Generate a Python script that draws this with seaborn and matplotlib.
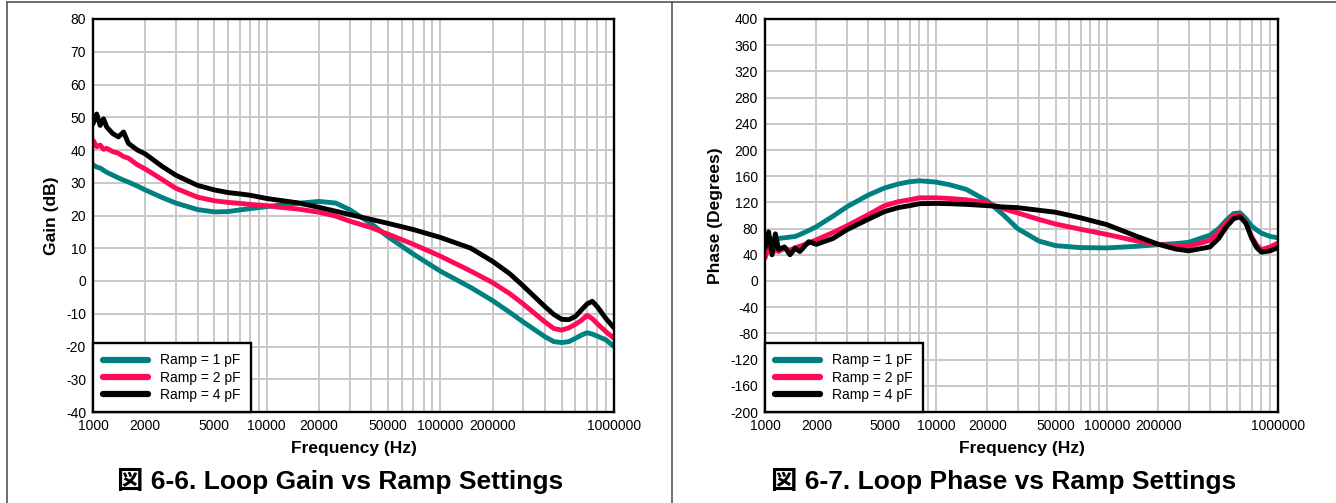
import matplotlib
matplotlib.use("Agg")
import matplotlib.pyplot as plt
from matplotlib.lines import Line2D
from matplotlib.ticker import FixedLocator, FixedFormatter, NullFormatter
import numpy as np
import pandas as pd
import seaborn as sns

# ---------------- data ----------------
FREQ = [1000, 1050, 1100, 1150, 1200, 1300, 1400, 1500, 1600, 1800, 2000, 2500, 3000,
        4000, 5000, 6000, 7000, 8000, 10000, 12000, 15000, 20000, 25000, 30000, 40000,
        50000, 70000, 100000, 150000, 200000, 250000, 300000, 400000, 450000, 500000,
        550000, 600000, 650000, 700000, 750000, 800000, 900000, 1000000]

SERIES = ["Ramp = 1 pF", "Ramp = 2 pF", "Ramp = 4 pF"]

GAIN_1PF = [35.5, 34.8, 34.5, 33.8, 33.2, 32.3, 31.5, 30.8, 30.2, 29.0, 27.8, 25.5, 23.8,
            21.8, 21.1, 21.2, 21.7, 22.1, 22.7, 23.2, 23.7, 24.3, 23.8, 21.8, 17.5,
            13.5, 8.2, 3.0, -2.0, -6.0, -9.5, -12.5, -17.0, -18.5, -18.8,
            -18.5, -17.5, -16.5, -15.8, -16.2, -16.8, -18.0, -20.0]
GAIN_2PF = [43.0, 41.0, 41.5, 40.2, 40.5, 39.5, 39.0, 38.0, 37.5, 35.5, 34.2, 31.0, 28.3,
            25.6, 24.5, 24.0, 23.7, 23.4, 23.0, 22.5, 22.0, 21.0, 19.8, 18.3, 16.3,
            14.3, 11.2, 7.6, 3.0, -0.5, -3.8, -7.0, -12.5, -14.5, -15.0,
            -14.3, -13.2, -12.0, -10.5, -11.5, -13.0, -15.5, -17.5]
GAIN_4PF = [48.0, 51.0, 47.5, 49.5, 47.0, 45.0, 44.0, 45.5, 42.0, 40.0, 38.8, 35.0, 32.3,
            29.2, 27.8, 27.0, 26.6, 26.2, 25.2, 24.6, 23.9, 22.5, 21.3, 20.3, 18.8,
            17.6, 15.7, 13.3, 10.0, 6.0, 2.3, -1.5, -7.8, -10.2, -11.7,
            -11.8, -10.8, -8.8, -7.0, -6.2, -7.8, -11.5, -14.3]

PHASE_1PF = [62, 66, 64, 65, 65, 66, 67, 68, 71, 77, 83, 99, 113,
             131, 142, 148, 151.5, 153, 151, 147, 140, 122, 100, 80, 61,
             54, 51, 50.5, 53, 55.5, 57, 59, 70, 80, 93,
             103, 104, 95, 84, 78, 73, 68, 66]
PHASE_2PF = [35, 55, 42, 48, 45, 50, 47, 51, 53, 58, 63, 74, 84,
             101, 115, 121, 124, 127, 127, 126, 124, 119, 110, 104, 94,
             87, 79, 71, 61, 56, 54, 53, 62, 75, 89,
             100, 101, 88, 68, 55, 48, 52, 58]
PHASE_4PF = [50, 75, 40, 72, 48, 52, 40, 50, 45, 60, 56, 65, 78,
             94, 106, 112, 115, 118, 118.5, 118, 117, 115, 113, 112, 108,
             105, 96.5, 86, 68, 56, 49, 46, 52, 65, 83,
             95, 98, 88, 66, 51, 44, 46, 51]

X_TICKS = [1000, 2000, 5000, 10000, 20000, 50000, 100000, 200000, 1000000]
X_TICK_LABELS = ["1000", "2000", "5000", "10000", "20000", "50000", "100000", "200000", "1000000"]
GAIN_TICKS = list(range(-40, 81, 10))
PHASE_TICKS = list(range(-200, 401, 40))

COLORS = {"Ramp = 1 pF": "#008080", "Ramp = 2 pF": "#ff0a55", "Ramp = 4 pF": "#000000"}

# ---------------- style ----------------
sns.set_style("white")
plt.rcParams["font.family"] = ["Liberation Sans", "Noto Sans CJK JP", "DejaVu Sans"]
plt.rcParams["text.color"] = "black"
plt.rcParams["axes.labelcolor"] = "black"

gain_df = pd.DataFrame({"freq": FREQ * 3,
                        "value": GAIN_1PF + GAIN_2PF + GAIN_4PF,
                        "series": sum([[s] * len(FREQ) for s in SERIES], [])})
phase_df = pd.DataFrame({"freq": FREQ * 3,
                         "value": PHASE_1PF + PHASE_2PF + PHASE_4PF,
                         "series": sum([[s] * len(FREQ) for s in SERIES], [])})

fig = plt.figure(figsize=(13.36, 5.03), dpi=100)
ax1 = fig.add_axes([93 / 1336, 1 - 412 / 503, 521 / 1336, 393 / 503])
ax2 = fig.add_axes([765 / 1336, 1 - 412 / 503, 513 / 1336, 393 / 503])

minor = [m * 10 ** k for k in range(3, 6) for m in range(1, 10)] + [1000000]


def style_axes(ax, df, yticks, ylabel):
    sns.lineplot(data=df, x="freq", y="value", hue="series", palette=COLORS,
                 hue_order=SERIES, linewidth=3.5, ax=ax, estimator=None, sort=False)
    ax.set_xscale("log")
    ax.set_xlim(1000, 1000000)
    ax.set_ylim(yticks[0], yticks[-1])
    ax.xaxis.set_major_locator(FixedLocator(X_TICKS))
    ax.xaxis.set_major_formatter(FixedFormatter(X_TICK_LABELS))
    ax.xaxis.set_minor_locator(FixedLocator(minor))
    ax.xaxis.set_minor_formatter(NullFormatter())
    ax.set_yticks(yticks)
    ax.set_yticklabels([str(t) for t in yticks])
    ax.grid(which="both", axis="both", color="#c8c8c8", linewidth=1.4)
    ax.set_axisbelow(True)
    ax.tick_params(which="both", length=0, labelsize=10, pad=5, colors="black")
    for sp in ax.spines.values():
        sp.set_color("black")
        sp.set_linewidth(1.7)
    ax.set_xlabel("Frequency (Hz)", fontsize=12.5, fontweight="bold", labelpad=6)
    ax.set_ylabel(ylabel, fontsize=12.5, fontweight="bold", labelpad=5)
    leg = ax.legend(loc="lower left", bbox_to_anchor=(0, 0), borderaxespad=0,
                    fontsize=10, handlelength=3.2, handletextpad=0.9,
                    labelspacing=0.22, borderpad=0.75, fancybox=False,
                    framealpha=1, edgecolor="black", title=None)
    leg.get_frame().set_linewidth(1.7)
    for h in leg.get_lines():
        h.set_linewidth(4.5)
    for t in leg.get_texts():
        t.set_color("black")


style_axes(ax1, gain_df, GAIN_TICKS, "Gain (dB)")
style_axes(ax2, phase_df, PHASE_TICKS, "Phase (Degrees)")

fig.text(340 / 1336, 1 - 481 / 503, "図 6-6. Loop Gain vs Ramp Settings",
         ha="center", va="center", fontsize=19, fontweight="bold", color="black")
fig.text(1004 / 1336, 1 - 481 / 503, "図 6-7. Loop Phase vs Ramp Settings",
         ha="center", va="center", fontsize=19, fontweight="bold", color="black")

# panel frame lines
fc = "#555555"
fig.add_artist(Line2D([7 / 1336, 7 / 1336], [0, 1 - 2 / 503], color=fc, lw=1.2, transform=fig.transFigure))
fig.add_artist(Line2D([7 / 1336, 1], [1 - 2 / 503, 1 - 2 / 503], color=fc, lw=1.2, transform=fig.transFigure))
fig.add_artist(Line2D([672 / 1336, 672 / 1336], [0, 1 - 2 / 503], color=fc, lw=1.2, transform=fig.transFigure))

fig.savefig("out.png", dpi=100)
